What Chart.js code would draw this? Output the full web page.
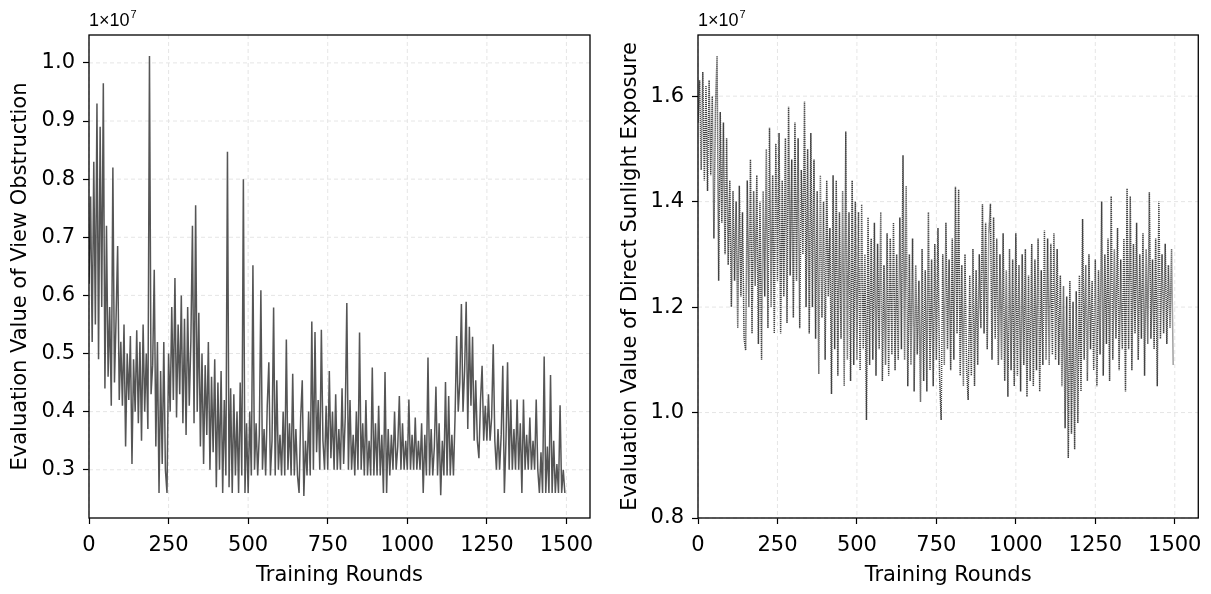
<!DOCTYPE html>
<html>
<head>
<meta charset="utf-8">
<title>Training curves</title>
<script src="https://cdn.jsdelivr.net/npm/chart.js@4.4.1/dist/chart.umd.min.js"></script>
<style>
  html, body { margin: 0; padding: 0; background: #fff; }
  #wrap { position: relative; width: 1211px; height: 594px; }
  #left { position: absolute; left: 0; top: 0; }
  #right { position: absolute; left: 605px; top: 0; }
</style>
</head>
<body>
<div id="wrap">
  <canvas id="left" width="605" height="594"></canvas>
  <canvas id="right" width="606" height="594"></canvas>
</div>
<script>
// values, one sample every 5 training rounds, in units of 1e7
const roundStep = 5;

const obstructionE7 = [
  0.62, 0.77, 0.52, 0.83, 0.55, 0.93, 0.49, 0.89, 0.58, 0.965,
  0.44, 0.72, 0.46, 0.58, 0.41, 0.82, 0.45, 0.56, 0.685, 0.42,
  0.52, 0.41, 0.55, 0.34, 0.50, 0.42, 0.53, 0.31, 0.49, 0.40,
  0.54, 0.38, 0.52, 0.35, 0.55, 0.40, 0.50, 0.37, 1.012, 0.43,
  0.48, 0.644, 0.34, 0.52, 0.26, 0.47, 0.31, 0.52, 0.30, 0.26,
  0.50, 0.40, 0.58, 0.42, 0.63, 0.39, 0.55, 0.43, 0.60, 0.38,
  0.56, 0.36, 0.58, 0.41, 0.52, 0.72, 0.38, 0.755, 0.40, 0.57,
  0.34, 0.50, 0.31, 0.48, 0.36, 0.52, 0.30, 0.46, 0.33, 0.49,
  0.27, 0.45, 0.30, 0.47, 0.26, 0.42, 0.29, 0.847, 0.27, 0.44,
  0.26, 0.43, 0.29, 0.40, 0.26, 0.45, 0.29, 0.80, 0.26, 0.38,
  0.26, 0.40, 0.29, 0.652, 0.30, 0.38, 0.29, 0.36, 0.609, 0.30,
  0.37, 0.29, 0.41, 0.485, 0.29, 0.35, 0.579, 0.29, 0.454, 0.30,
  0.36, 0.29, 0.40, 0.29, 0.524, 0.30, 0.38, 0.29, 0.465, 0.29,
  0.37, 0.29, 0.26, 0.39, 0.454, 0.255, 0.35, 0.29, 0.40, 0.29,
  0.555, 0.30, 0.537, 0.33, 0.42, 0.30, 0.541, 0.35, 0.30, 0.41,
  0.30, 0.47, 0.32, 0.40, 0.30, 0.43, 0.30, 0.37, 0.30, 0.44,
  0.31, 0.39, 0.587, 0.30, 0.42, 0.30, 0.36, 0.29, 0.40, 0.30,
  0.536, 0.30, 0.38, 0.29, 0.42, 0.29, 0.35, 0.29, 0.476, 0.29,
  0.38, 0.29, 0.41, 0.29, 0.36, 0.26, 0.468, 0.26, 0.37, 0.29,
  0.36, 0.30, 0.40, 0.30, 0.34, 0.427, 0.30, 0.38, 0.30, 0.35,
  0.30, 0.421, 0.30, 0.36, 0.30, 0.39, 0.30, 0.35, 0.30, 0.38,
  0.26, 0.36, 0.29, 0.493, 0.29, 0.37, 0.29, 0.34, 0.443, 0.29,
  0.38, 0.256, 0.35, 0.29, 0.451, 0.29, 0.427, 0.29, 0.36, 0.29,
  0.39, 0.53, 0.40, 0.45, 0.585, 0.40, 0.47, 0.589, 0.37, 0.546,
  0.41, 0.529, 0.35, 0.454, 0.35, 0.32, 0.42, 0.479, 0.35, 0.41,
  0.35, 0.43, 0.35, 0.39, 0.516, 0.35, 0.30, 0.37, 0.30, 0.36,
  0.479, 0.26, 0.35, 0.485, 0.30, 0.421, 0.30, 0.37, 0.30, 0.421,
  0.30, 0.38, 0.26, 0.421, 0.30, 0.36, 0.30, 0.39, 0.30, 0.35,
  0.30, 0.421, 0.30, 0.26, 0.33, 0.26, 0.495, 0.26, 0.34, 0.26,
  0.463, 0.26, 0.35, 0.26, 0.31, 0.26, 0.411, 0.26, 0.30, 0.26
];

const sunlightE7 = [
  1.55, 1.63, 1.46, 1.646, 1.44, 1.62, 1.42, 1.63, 1.45, 1.60,
  1.33, 1.58, 1.676, 1.25, 1.57, 1.36, 1.55, 1.30, 1.52, 1.28,
  1.44, 1.20, 1.42, 1.25, 1.40, 1.16, 1.43, 1.22, 1.38, 1.14,
  1.118, 1.44, 1.20, 1.48, 1.15, 1.42, 1.24, 1.45, 1.13, 1.40,
  1.10, 1.42, 1.22, 1.50, 1.16, 1.54, 1.20, 1.45, 1.15, 1.51,
  1.25, 1.53, 1.15, 1.44, 1.22, 1.52, 1.17, 1.58, 1.26, 1.48,
  1.18, 1.55, 1.25, 1.52, 1.16, 1.46, 1.30, 1.59, 1.20, 1.50,
  1.15, 1.53, 1.20, 1.48, 1.14, 1.42, 1.073, 1.45, 1.18, 1.40,
  1.10, 1.44, 1.22, 1.35, 1.035, 1.45, 1.12, 1.44, 1.07, 1.38,
  1.14, 1.42, 1.05, 1.533, 1.10, 1.38, 1.06, 1.44, 1.09, 1.40,
  1.10, 1.38, 1.08, 1.395, 1.12, 1.30, 0.986, 1.37, 1.09, 1.33,
  1.10, 1.36, 1.07, 1.32, 1.12, 1.38, 1.06, 1.28, 1.09, 1.34,
  1.07, 1.33, 1.11, 1.36, 1.08, 1.30, 1.10, 1.37, 1.12, 1.488,
  1.10, 1.43, 1.05, 1.30, 1.09, 1.33, 1.04, 1.28, 1.11, 1.25,
  1.02, 1.31, 1.06, 1.27, 1.04, 1.38, 1.08, 1.29, 1.05, 1.32,
  1.10, 1.35, 1.07, 0.986, 1.30, 1.09, 1.36, 1.12, 1.29, 1.08,
  1.33, 1.10, 1.428, 1.15, 1.423, 1.07, 1.28, 1.05, 1.30, 1.08,
  1.024, 1.26, 1.07, 1.31, 1.05, 1.27, 1.09, 1.30, 1.16, 1.395,
  1.15, 1.36, 1.12, 1.34, 1.396, 1.10, 1.37, 1.14, 1.33, 1.09,
  1.30, 1.10, 1.34, 1.06, 1.27, 1.03, 1.31, 1.08, 1.29, 1.05,
  1.34, 1.07, 1.28, 1.04, 1.30, 1.09, 1.31, 1.03, 1.26, 1.06,
  1.32, 1.05, 1.29, 1.08, 1.33, 1.04, 1.27, 1.09, 1.345, 1.10,
  1.33, 1.09, 1.32, 1.11, 1.34, 1.10, 1.31, 1.09, 1.26, 1.05,
  1.24, 0.97, 1.22, 0.914, 1.25, 0.96, 1.21, 0.93, 1.23, 0.98,
  1.26, 1.04, 1.367, 1.10, 1.28, 1.06, 1.30, 1.12, 1.25, 1.08,
  1.29, 1.05, 1.27, 1.11, 1.40, 1.07, 1.30, 1.13, 1.33, 1.06,
  1.41, 1.10, 1.31, 1.14, 1.35, 1.08, 1.29, 1.12, 1.33, 1.04,
  1.425, 1.12, 1.41, 1.08, 1.32, 1.15, 1.36, 1.10, 1.30, 1.14,
  1.34, 1.07, 1.31, 1.13, 1.418, 1.14, 1.29, 1.12, 1.33, 1.05,
  1.40, 1.14, 1.30, 1.15, 1.32, 1.13, 1.28, 1.16, 1.31, 1.09
];

const xTicks = [0, 250, 500, 750, 1000, 1250, 1500];
const obstructionTicks = [0.3, 0.4, 0.5, 0.6, 0.7, 0.8, 0.9, 1.0];
const sunlightTicks = [0.8, 1.0, 1.2, 1.4, 1.6];
const xLimits = [0, 1574];
const obstructionLimits = [0.217, 1.048];
const sunlightLimits = [0.8, 1.716];

const tickFont = { family: 'DejaVu Sans', size: 21 };
const titleFont = { family: 'DejaVu Sans', size: 21 };

function toPoints(values) {
  return values.map((v, i) => ({ x: i * roundStep, y: v }));
}

// dashed grid behind the line, full black frame and the 1e7 offset text
const framePlugin = {
  id: 'frame',
  beforeDatasetsDraw(chart) {
    const { ctx, chartArea: a, scales: { x, y } } = chart;
    ctx.save();
    ctx.strokeStyle = '#e2e2e2';
    ctx.lineWidth = 0.9;
    ctx.setLineDash([4, 3]);
    ctx.beginPath();
    x.ticks.forEach(t => {
      const px = x.getPixelForValue(t.value);
      ctx.moveTo(px, a.top);
      ctx.lineTo(px, a.bottom);
    });
    y.ticks.forEach(t => {
      const py = y.getPixelForValue(t.value);
      ctx.moveTo(a.left, py);
      ctx.lineTo(a.right, py);
    });
    ctx.stroke();
    ctx.restore();
  },
  afterDraw(chart) {
    const { ctx, chartArea: a } = chart;
    ctx.save();
    ctx.strokeStyle = '#000';
    ctx.lineWidth = 1.3;
    ctx.strokeRect(a.left, a.top, a.right - a.left, a.bottom - a.top);
    ctx.fillStyle = '#000';
    ctx.textBaseline = 'alphabetic';
    ctx.textAlign = 'left';
    ctx.font = '18px "Liberation Sans"';
    const base = '1×10';
    ctx.fillText(base, a.left, a.top - 9);
    const w = ctx.measureText(base).width;
    ctx.font = '11px "Liberation Sans"';
    ctx.fillText('7', a.left + w + 1, a.top - 17);
    ctx.restore();
  }
};

function makeChart(canvasId, values, yTicks, yLimits, yTitle, opts) {
  const ctx = document.getElementById(canvasId).getContext('2d');
  return new Chart(ctx, {
    type: 'line',
    data: {
      datasets: [{
        data: toPoints(values),
        borderColor: opts.color,
        borderWidth: opts.width,
        borderDash: opts.dash,
        pointRadius: 0,
        tension: 0,
        fill: false
      }]
    },
    options: {
      responsive: false,
      animation: false,
      events: [],
      layout: { padding: { top: 35, right: opts.rightPad, left: 0, bottom: 0 } },
      plugins: { legend: { display: false }, tooltip: { enabled: false } },
      scales: {
        x: {
          type: 'linear',
          min: xLimits[0],
          max: xLimits[1],
          afterBuildTicks: s => { s.ticks = xTicks.map(v => ({ value: v })); },
          afterFit: s => { s.height = 76; },
          ticks: { font: tickFont, color: '#000', padding: 9, maxRotation: 0, callback: v => String(v) },
          grid: { drawOnChartArea: false, drawTicks: true, tickLength: 6, tickColor: '#000', tickWidth: 1.2 },
          border: { display: false },
          title: { display: true, text: 'Training Rounds', font: titleFont, color: '#000', padding: { top: 0, bottom: 6 } }
        },
        y: {
          type: 'linear',
          min: yLimits[0],
          max: yLimits[1],
          afterBuildTicks: s => { s.ticks = yTicks.map(v => ({ value: v })); },
          afterFit: s => { s.width = opts.axisWidth; },
          ticks: { font: tickFont, color: '#000', padding: 8, callback: v => v.toFixed(1) },
          grid: { drawOnChartArea: false, drawTicks: true, tickLength: 6, tickColor: '#000', tickWidth: 1.2 },
          border: { display: false },
          title: { display: true, text: yTitle, font: titleFont, color: '#000', padding: { top: opts.titlePad, bottom: 0 } }
        }
      }
    },
    plugins: [framePlugin]
  });
}

makeChart('left', obstructionE7, obstructionTicks, obstructionLimits,
  'Evaluation Value of View Obstruction',
  { color: 'rgba(55,55,55,0.85)', width: 1.5, dash: [], rightPad: 15, axisWidth: 89, titlePad: 8 });

makeChart('right', sunlightE7, sunlightTicks, sunlightLimits,
  'Evaluation Value of Direct Sunlight Exposure',
  { color: 'rgba(45,45,45,0.9)', width: 1.5, dash: [1.2, 0.8], rightPad: 11, axisWidth: 93, titlePad: 13 });
</script>
</body>
</html>
